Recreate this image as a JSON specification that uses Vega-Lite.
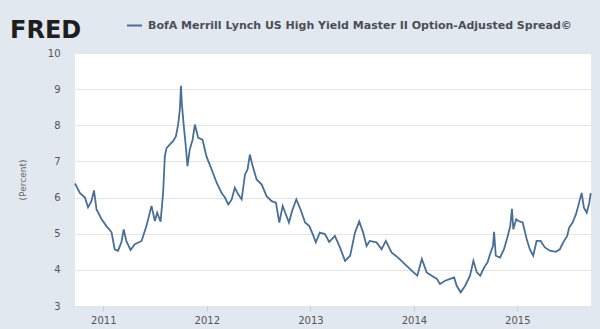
{
  "$schema": "https://vega.github.io/schema/vega-lite/v6.json",
  "width": 516,
  "height": 253,
  "autosize": "none",
  "padding": {"left": 75, "top": 53, "right": 9, "bottom": 23},
  "background": "#e1e8ef",
  "title": {
    "text": "FRED",
    "anchor": "start",
    "frame": "group",
    "dx": -65,
    "dy": 44,
    "offset": 18,
    "font": "DejaVu Sans",
    "fontSize": 24,
    "fontWeight": 900,
    "color": "#1e1e1e"
  },
  "config": {
    "view": {"stroke": null, "fill": "#ffffff"},
    "font": "DejaVu Sans"
  },
  "data": {
    "values": [
      {"date": "2010-09-23", "spread": 6.39, "series": "BofA Merrill Lynch US High Yield Master II Option-Adjusted Spread©"},
      {"date": "2010-10-10", "spread": 6.13, "series": "BofA Merrill Lynch US High Yield Master II Option-Adjusted Spread©"},
      {"date": "2010-10-28", "spread": 6.0, "series": "BofA Merrill Lynch US High Yield Master II Option-Adjusted Spread©"},
      {"date": "2010-11-08", "spread": 5.73, "series": "BofA Merrill Lynch US High Yield Master II Option-Adjusted Spread©"},
      {"date": "2010-11-20", "spread": 5.9, "series": "BofA Merrill Lynch US High Yield Master II Option-Adjusted Spread©"},
      {"date": "2010-11-29", "spread": 6.2, "series": "BofA Merrill Lynch US High Yield Master II Option-Adjusted Spread©"},
      {"date": "2010-12-08", "spread": 5.67, "series": "BofA Merrill Lynch US High Yield Master II Option-Adjusted Spread©"},
      {"date": "2010-12-26", "spread": 5.4, "series": "BofA Merrill Lynch US High Yield Master II Option-Adjusted Spread©"},
      {"date": "2011-01-12", "spread": 5.21, "series": "BofA Merrill Lynch US High Yield Master II Option-Adjusted Spread©"},
      {"date": "2011-01-30", "spread": 5.04, "series": "BofA Merrill Lynch US High Yield Master II Option-Adjusted Spread©"},
      {"date": "2011-02-10", "spread": 4.57, "series": "BofA Merrill Lynch US High Yield Master II Option-Adjusted Spread©"},
      {"date": "2011-02-22", "spread": 4.53, "series": "BofA Merrill Lynch US High Yield Master II Option-Adjusted Spread©"},
      {"date": "2011-03-06", "spread": 4.77, "series": "BofA Merrill Lynch US High Yield Master II Option-Adjusted Spread©"},
      {"date": "2011-03-14", "spread": 5.12, "series": "BofA Merrill Lynch US High Yield Master II Option-Adjusted Spread©"},
      {"date": "2011-03-23", "spread": 4.8, "series": "BofA Merrill Lynch US High Yield Master II Option-Adjusted Spread©"},
      {"date": "2011-04-07", "spread": 4.55, "series": "BofA Merrill Lynch US High Yield Master II Option-Adjusted Spread©"},
      {"date": "2011-04-22", "spread": 4.71, "series": "BofA Merrill Lynch US High Yield Master II Option-Adjusted Spread©"},
      {"date": "2011-05-16", "spread": 4.8, "series": "BofA Merrill Lynch US High Yield Master II Option-Adjusted Spread©"},
      {"date": "2011-06-02", "spread": 5.21, "series": "BofA Merrill Lynch US High Yield Master II Option-Adjusted Spread©"},
      {"date": "2011-06-20", "spread": 5.77, "series": "BofA Merrill Lynch US High Yield Master II Option-Adjusted Spread©"},
      {"date": "2011-07-02", "spread": 5.35, "series": "BofA Merrill Lynch US High Yield Master II Option-Adjusted Spread©"},
      {"date": "2011-07-10", "spread": 5.58, "series": "BofA Merrill Lynch US High Yield Master II Option-Adjusted Spread©"},
      {"date": "2011-07-22", "spread": 5.33, "series": "BofA Merrill Lynch US High Yield Master II Option-Adjusted Spread©"},
      {"date": "2011-07-31", "spread": 6.13, "series": "BofA Merrill Lynch US High Yield Master II Option-Adjusted Spread©"},
      {"date": "2011-08-06", "spread": 7.14, "series": "BofA Merrill Lynch US High Yield Master II Option-Adjusted Spread©"},
      {"date": "2011-08-12", "spread": 7.37, "series": "BofA Merrill Lynch US High Yield Master II Option-Adjusted Spread©"},
      {"date": "2011-08-24", "spread": 7.47, "series": "BofA Merrill Lynch US High Yield Master II Option-Adjusted Spread©"},
      {"date": "2011-09-04", "spread": 7.56, "series": "BofA Merrill Lynch US High Yield Master II Option-Adjusted Spread©"},
      {"date": "2011-09-14", "spread": 7.69, "series": "BofA Merrill Lynch US High Yield Master II Option-Adjusted Spread©"},
      {"date": "2011-09-22", "spread": 8.02, "series": "BofA Merrill Lynch US High Yield Master II Option-Adjusted Spread©"},
      {"date": "2011-09-28", "spread": 8.43, "series": "BofA Merrill Lynch US High Yield Master II Option-Adjusted Spread©"},
      {"date": "2011-10-02", "spread": 9.09, "series": "BofA Merrill Lynch US High Yield Master II Option-Adjusted Spread©"},
      {"date": "2011-10-05", "spread": 8.61, "series": "BofA Merrill Lynch US High Yield Master II Option-Adjusted Spread©"},
      {"date": "2011-10-12", "spread": 7.97, "series": "BofA Merrill Lynch US High Yield Master II Option-Adjusted Spread©"},
      {"date": "2011-10-19", "spread": 7.42, "series": "BofA Merrill Lynch US High Yield Master II Option-Adjusted Spread©"},
      {"date": "2011-10-25", "spread": 6.87, "series": "BofA Merrill Lynch US High Yield Master II Option-Adjusted Spread©"},
      {"date": "2011-11-02", "spread": 7.33, "series": "BofA Merrill Lynch US High Yield Master II Option-Adjusted Spread©"},
      {"date": "2011-11-12", "spread": 7.6, "series": "BofA Merrill Lynch US High Yield Master II Option-Adjusted Spread©"},
      {"date": "2011-11-20", "spread": 8.02, "series": "BofA Merrill Lynch US High Yield Master II Option-Adjusted Spread©"},
      {"date": "2011-12-02", "spread": 7.65, "series": "BofA Merrill Lynch US High Yield Master II Option-Adjusted Spread©"},
      {"date": "2011-12-17", "spread": 7.6, "series": "BofA Merrill Lynch US High Yield Master II Option-Adjusted Spread©"},
      {"date": "2011-12-31", "spread": 7.14, "series": "BofA Merrill Lynch US High Yield Master II Option-Adjusted Spread©"},
      {"date": "2012-01-18", "spread": 6.78, "series": "BofA Merrill Lynch US High Yield Master II Option-Adjusted Spread©"},
      {"date": "2012-02-05", "spread": 6.41, "series": "BofA Merrill Lynch US High Yield Master II Option-Adjusted Spread©"},
      {"date": "2012-02-22", "spread": 6.13, "series": "BofA Merrill Lynch US High Yield Master II Option-Adjusted Spread©"},
      {"date": "2012-03-05", "spread": 6.0, "series": "BofA Merrill Lynch US High Yield Master II Option-Adjusted Spread©"},
      {"date": "2012-03-17", "spread": 5.81, "series": "BofA Merrill Lynch US High Yield Master II Option-Adjusted Spread©"},
      {"date": "2012-03-29", "spread": 5.95, "series": "BofA Merrill Lynch US High Yield Master II Option-Adjusted Spread©"},
      {"date": "2012-04-09", "spread": 6.27, "series": "BofA Merrill Lynch US High Yield Master II Option-Adjusted Spread©"},
      {"date": "2012-04-21", "spread": 6.09, "series": "BofA Merrill Lynch US High Yield Master II Option-Adjusted Spread©"},
      {"date": "2012-05-03", "spread": 5.95, "series": "BofA Merrill Lynch US High Yield Master II Option-Adjusted Spread©"},
      {"date": "2012-05-15", "spread": 6.64, "series": "BofA Merrill Lynch US High Yield Master II Option-Adjusted Spread©"},
      {"date": "2012-05-24", "spread": 6.78, "series": "BofA Merrill Lynch US High Yield Master II Option-Adjusted Spread©"},
      {"date": "2012-06-01", "spread": 7.19, "series": "BofA Merrill Lynch US High Yield Master II Option-Adjusted Spread©"},
      {"date": "2012-06-11", "spread": 6.87, "series": "BofA Merrill Lynch US High Yield Master II Option-Adjusted Spread©"},
      {"date": "2012-06-25", "spread": 6.5, "series": "BofA Merrill Lynch US High Yield Master II Option-Adjusted Spread©"},
      {"date": "2012-07-13", "spread": 6.36, "series": "BofA Merrill Lynch US High Yield Master II Option-Adjusted Spread©"},
      {"date": "2012-07-30", "spread": 6.04, "series": "BofA Merrill Lynch US High Yield Master II Option-Adjusted Spread©"},
      {"date": "2012-08-17", "spread": 5.9, "series": "BofA Merrill Lynch US High Yield Master II Option-Adjusted Spread©"},
      {"date": "2012-09-01", "spread": 5.86, "series": "BofA Merrill Lynch US High Yield Master II Option-Adjusted Spread©"},
      {"date": "2012-09-13", "spread": 5.31, "series": "BofA Merrill Lynch US High Yield Master II Option-Adjusted Spread©"},
      {"date": "2012-09-25", "spread": 5.77, "series": "BofA Merrill Lynch US High Yield Master II Option-Adjusted Spread©"},
      {"date": "2012-10-06", "spread": 5.54, "series": "BofA Merrill Lynch US High Yield Master II Option-Adjusted Spread©"},
      {"date": "2012-10-17", "spread": 5.31, "series": "BofA Merrill Lynch US High Yield Master II Option-Adjusted Spread©"},
      {"date": "2012-10-28", "spread": 5.63, "series": "BofA Merrill Lynch US High Yield Master II Option-Adjusted Spread©"},
      {"date": "2012-11-12", "spread": 5.95, "series": "BofA Merrill Lynch US High Yield Master II Option-Adjusted Spread©"},
      {"date": "2012-11-27", "spread": 5.67, "series": "BofA Merrill Lynch US High Yield Master II Option-Adjusted Spread©"},
      {"date": "2012-12-13", "spread": 5.31, "series": "BofA Merrill Lynch US High Yield Master II Option-Adjusted Spread©"},
      {"date": "2012-12-28", "spread": 5.21, "series": "BofA Merrill Lynch US High Yield Master II Option-Adjusted Spread©"},
      {"date": "2013-01-09", "spread": 4.99, "series": "BofA Merrill Lynch US High Yield Master II Option-Adjusted Spread©"},
      {"date": "2013-01-20", "spread": 4.76, "series": "BofA Merrill Lynch US High Yield Master II Option-Adjusted Spread©"},
      {"date": "2013-02-03", "spread": 5.03, "series": "BofA Merrill Lynch US High Yield Master II Option-Adjusted Spread©"},
      {"date": "2013-02-21", "spread": 4.99, "series": "BofA Merrill Lynch US High Yield Master II Option-Adjusted Spread©"},
      {"date": "2013-03-08", "spread": 4.77, "series": "BofA Merrill Lynch US High Yield Master II Option-Adjusted Spread©"},
      {"date": "2013-03-28", "spread": 4.94, "series": "BofA Merrill Lynch US High Yield Master II Option-Adjusted Spread©"},
      {"date": "2013-04-15", "spread": 4.62, "series": "BofA Merrill Lynch US High Yield Master II Option-Adjusted Spread©"},
      {"date": "2013-05-03", "spread": 4.25, "series": "BofA Merrill Lynch US High Yield Master II Option-Adjusted Spread©"},
      {"date": "2013-05-21", "spread": 4.39, "series": "BofA Merrill Lynch US High Yield Master II Option-Adjusted Spread©"},
      {"date": "2013-06-07", "spread": 5.03, "series": "BofA Merrill Lynch US High Yield Master II Option-Adjusted Spread©"},
      {"date": "2013-06-22", "spread": 5.34, "series": "BofA Merrill Lynch US High Yield Master II Option-Adjusted Spread©"},
      {"date": "2013-07-06", "spread": 5.03, "series": "BofA Merrill Lynch US High Yield Master II Option-Adjusted Spread©"},
      {"date": "2013-07-18", "spread": 4.66, "series": "BofA Merrill Lynch US High Yield Master II Option-Adjusted Spread©"},
      {"date": "2013-07-29", "spread": 4.8, "series": "BofA Merrill Lynch US High Yield Master II Option-Adjusted Spread©"},
      {"date": "2013-08-22", "spread": 4.76, "series": "BofA Merrill Lynch US High Yield Master II Option-Adjusted Spread©"},
      {"date": "2013-09-09", "spread": 4.57, "series": "BofA Merrill Lynch US High Yield Master II Option-Adjusted Spread©"},
      {"date": "2013-09-24", "spread": 4.8, "series": "BofA Merrill Lynch US High Yield Master II Option-Adjusted Spread©"},
      {"date": "2013-10-14", "spread": 4.48, "series": "BofA Merrill Lynch US High Yield Master II Option-Adjusted Spread©"},
      {"date": "2013-11-06", "spread": 4.34, "series": "BofA Merrill Lynch US High Yield Master II Option-Adjusted Spread©"},
      {"date": "2013-11-30", "spread": 4.16, "series": "BofA Merrill Lynch US High Yield Master II Option-Adjusted Spread©"},
      {"date": "2013-12-24", "spread": 3.98, "series": "BofA Merrill Lynch US High Yield Master II Option-Adjusted Spread©"},
      {"date": "2014-01-13", "spread": 3.84, "series": "BofA Merrill Lynch US High Yield Master II Option-Adjusted Spread©"},
      {"date": "2014-01-29", "spread": 4.3, "series": "BofA Merrill Lynch US High Yield Master II Option-Adjusted Spread©"},
      {"date": "2014-02-15", "spread": 3.93, "series": "BofA Merrill Lynch US High Yield Master II Option-Adjusted Spread©"},
      {"date": "2014-03-05", "spread": 3.84, "series": "BofA Merrill Lynch US High Yield Master II Option-Adjusted Spread©"},
      {"date": "2014-03-23", "spread": 3.75, "series": "BofA Merrill Lynch US High Yield Master II Option-Adjusted Spread©"},
      {"date": "2014-04-03", "spread": 3.61, "series": "BofA Merrill Lynch US High Yield Master II Option-Adjusted Spread©"},
      {"date": "2014-04-21", "spread": 3.7, "series": "BofA Merrill Lynch US High Yield Master II Option-Adjusted Spread©"},
      {"date": "2014-05-09", "spread": 3.75, "series": "BofA Merrill Lynch US High Yield Master II Option-Adjusted Spread©"},
      {"date": "2014-05-23", "spread": 3.79, "series": "BofA Merrill Lynch US High Yield Master II Option-Adjusted Spread©"},
      {"date": "2014-06-01", "spread": 3.56, "series": "BofA Merrill Lynch US High Yield Master II Option-Adjusted Spread©"},
      {"date": "2014-06-15", "spread": 3.38, "series": "BofA Merrill Lynch US High Yield Master II Option-Adjusted Spread©"},
      {"date": "2014-07-01", "spread": 3.56, "series": "BofA Merrill Lynch US High Yield Master II Option-Adjusted Spread©"},
      {"date": "2014-07-18", "spread": 3.84, "series": "BofA Merrill Lynch US High Yield Master II Option-Adjusted Spread©"},
      {"date": "2014-07-30", "spread": 4.25, "series": "BofA Merrill Lynch US High Yield Master II Option-Adjusted Spread©"},
      {"date": "2014-08-11", "spread": 3.93, "series": "BofA Merrill Lynch US High Yield Master II Option-Adjusted Spread©"},
      {"date": "2014-08-23", "spread": 3.84, "series": "BofA Merrill Lynch US High Yield Master II Option-Adjusted Spread©"},
      {"date": "2014-09-06", "spread": 4.07, "series": "BofA Merrill Lynch US High Yield Master II Option-Adjusted Spread©"},
      {"date": "2014-09-18", "spread": 4.21, "series": "BofA Merrill Lynch US High Yield Master II Option-Adjusted Spread©"},
      {"date": "2014-09-27", "spread": 4.44, "series": "BofA Merrill Lynch US High Yield Master II Option-Adjusted Spread©"},
      {"date": "2014-10-07", "spread": 4.66, "series": "BofA Merrill Lynch US High Yield Master II Option-Adjusted Spread©"},
      {"date": "2014-10-11", "spread": 5.05, "series": "BofA Merrill Lynch US High Yield Master II Option-Adjusted Spread©"},
      {"date": "2014-10-17", "spread": 4.39, "series": "BofA Merrill Lynch US High Yield Master II Option-Adjusted Spread©"},
      {"date": "2014-11-01", "spread": 4.34, "series": "BofA Merrill Lynch US High Yield Master II Option-Adjusted Spread©"},
      {"date": "2014-11-15", "spread": 4.57, "series": "BofA Merrill Lynch US High Yield Master II Option-Adjusted Spread©"},
      {"date": "2014-11-27", "spread": 4.9, "series": "BofA Merrill Lynch US High Yield Master II Option-Adjusted Spread©"},
      {"date": "2014-12-07", "spread": 5.21, "series": "BofA Merrill Lynch US High Yield Master II Option-Adjusted Spread©"},
      {"date": "2014-12-13", "spread": 5.69, "series": "BofA Merrill Lynch US High Yield Master II Option-Adjusted Spread©"},
      {"date": "2014-12-18", "spread": 5.12, "series": "BofA Merrill Lynch US High Yield Master II Option-Adjusted Spread©"},
      {"date": "2014-12-28", "spread": 5.4, "series": "BofA Merrill Lynch US High Yield Master II Option-Adjusted Spread©"},
      {"date": "2015-01-05", "spread": 5.35, "series": "BofA Merrill Lynch US High Yield Master II Option-Adjusted Spread©"},
      {"date": "2015-01-20", "spread": 5.31, "series": "BofA Merrill Lynch US High Yield Master II Option-Adjusted Spread©"},
      {"date": "2015-02-03", "spread": 4.85, "series": "BofA Merrill Lynch US High Yield Master II Option-Adjusted Spread©"},
      {"date": "2015-02-14", "spread": 4.57, "series": "BofA Merrill Lynch US High Yield Master II Option-Adjusted Spread©"},
      {"date": "2015-02-26", "spread": 4.39, "series": "BofA Merrill Lynch US High Yield Master II Option-Adjusted Spread©"},
      {"date": "2015-03-10", "spread": 4.8, "series": "BofA Merrill Lynch US High Yield Master II Option-Adjusted Spread©"},
      {"date": "2015-03-24", "spread": 4.8, "series": "BofA Merrill Lynch US High Yield Master II Option-Adjusted Spread©"},
      {"date": "2015-04-08", "spread": 4.62, "series": "BofA Merrill Lynch US High Yield Master II Option-Adjusted Spread©"},
      {"date": "2015-04-26", "spread": 4.53, "series": "BofA Merrill Lynch US High Yield Master II Option-Adjusted Spread©"},
      {"date": "2015-05-17", "spread": 4.5, "series": "BofA Merrill Lynch US High Yield Master II Option-Adjusted Spread©"},
      {"date": "2015-05-31", "spread": 4.57, "series": "BofA Merrill Lynch US High Yield Master II Option-Adjusted Spread©"},
      {"date": "2015-06-12", "spread": 4.76, "series": "BofA Merrill Lynch US High Yield Master II Option-Adjusted Spread©"},
      {"date": "2015-06-26", "spread": 4.94, "series": "BofA Merrill Lynch US High Yield Master II Option-Adjusted Spread©"},
      {"date": "2015-07-03", "spread": 5.17, "series": "BofA Merrill Lynch US High Yield Master II Option-Adjusted Spread©"},
      {"date": "2015-07-15", "spread": 5.31, "series": "BofA Merrill Lynch US High Yield Master II Option-Adjusted Spread©"},
      {"date": "2015-07-27", "spread": 5.54, "series": "BofA Merrill Lynch US High Yield Master II Option-Adjusted Spread©"},
      {"date": "2015-08-04", "spread": 5.77, "series": "BofA Merrill Lynch US High Yield Master II Option-Adjusted Spread©"},
      {"date": "2015-08-16", "spread": 6.13, "series": "BofA Merrill Lynch US High Yield Master II Option-Adjusted Spread©"},
      {"date": "2015-08-24", "spread": 5.72, "series": "BofA Merrill Lynch US High Yield Master II Option-Adjusted Spread©"},
      {"date": "2015-09-03", "spread": 5.58, "series": "BofA Merrill Lynch US High Yield Master II Option-Adjusted Spread©"},
      {"date": "2015-09-12", "spread": 5.86, "series": "BofA Merrill Lynch US High Yield Master II Option-Adjusted Spread©"},
      {"date": "2015-09-17", "spread": 6.12, "series": "BofA Merrill Lynch US High Yield Master II Option-Adjusted Spread©"}
    ]
  },
  "mark": {"type": "line", "strokeWidth": 1.8, "interpolate": "linear"},
  "encoding": {
    "x": {
      "field": "date",
      "type": "temporal",
      "scale": {"domain": ["2010-09-23", "2015-09-18"]},
      "axis": {
        "title": null,
        "format": "%Y",
        "tickCount": {"interval": "year", "step": 1},
        "grid": false,
        "domain": false,
        "ticks": true,
        "tickSize": 5,
        "tickColor": "#c8d0d8",
        "labelPadding": 4,
        "labelFontSize": 10,
        "labelColor": "#555555",
        "labelFont": "DejaVu Sans"
      }
    },
    "y": {
      "field": "spread",
      "type": "quantitative",
      "scale": {"domain": [3, 10], "nice": false, "zero": false},
      "axis": {
        "title": "(Percent)",
        "titleFontSize": 9,
        "titleFontWeight": "normal",
        "titleColor": "#666666",
        "titlePadding": 20,
        "values": [3, 4, 5, 6, 7, 8, 9, 10],
        "grid": true,
        "gridColor": "#e4e4e4",
        "domain": false,
        "ticks": false,
        "labelPadding": 15,
        "labelFontSize": 10,
        "labelColor": "#555555",
        "labelFont": "DejaVu Sans"
      }
    },
    "color": {
      "field": "series",
      "type": "nominal",
      "scale": {"range": ["#4a6f96"]},
      "legend": {
        "title": null,
        "orient": "none",
        "legendX": 51,
        "legendY": -36,
        "symbolType": "stroke",
        "symbolSize": 225,
        "symbolStrokeWidth": 2,
        "labelFontSize": 11,
        "labelFontWeight": "bold",
        "labelColor": "#4a4f57",
        "labelLimit": 600,
        "labelOffset": 5,
        "labelFont": "DejaVu Sans"
      }
    }
  }
}
